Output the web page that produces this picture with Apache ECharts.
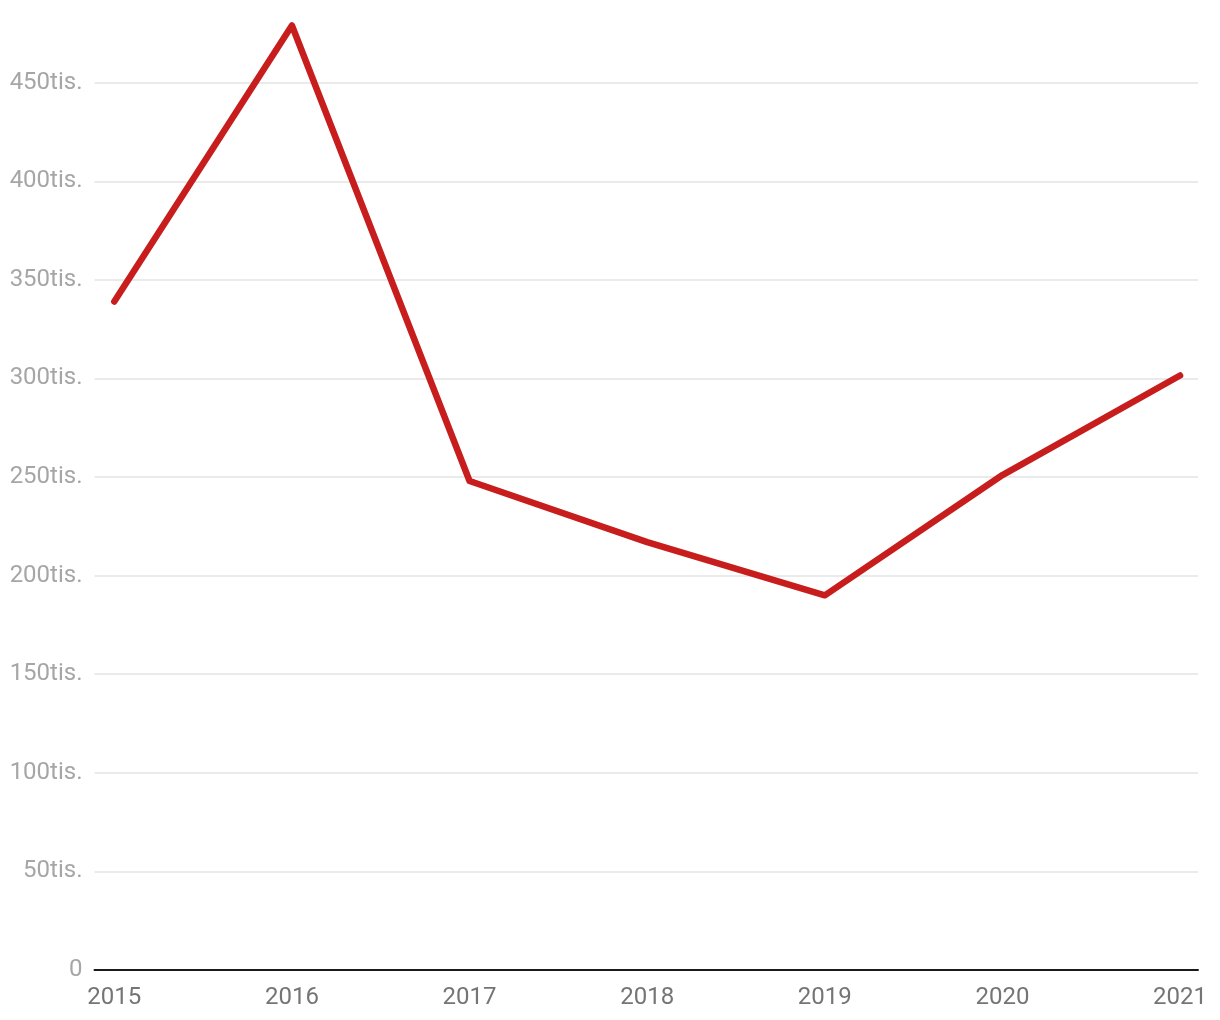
<!DOCTYPE html>
<html>
<head>
<meta charset="utf-8">
<script src="https://cdn.jsdelivr.net/npm/echarts@6/dist/echarts.min.js"></script>
<style>html,body{margin:0;padding:0;background:#fff}#chart{width:1220px;height:1020px}</style>
</head>
<body>
<div id="chart"></div>
<script>
var years = [2015, 2016, 2017, 2018, 2019, 2020, 2021];
var values = [339000, 479000, 248000, 217000, 190000, 251000, 301500];
var yTicks = [0, 50000, 100000, 150000, 200000, 250000, 300000, 350000, 400000, 450000];

var gridColors = yTicks.map(function () { return '#e3e3e3'; }).concat(['rgba(0,0,0,0)']);

var chart = echarts.init(document.getElementById('chart'));
chart.setOption({
  animation: false,
  grid: { left: 94.5, right: 22, top: 23.5, bottom: 50, containLabel: false },
  xAxis: {
    type: 'value',
    min: 2014.8885,
    max: 2021.101,
    axisLine: { show: true, onZero: false, lineStyle: { color: '#1a1a1a', width: 2 } },
    axisTick: { show: false },
    splitLine: { show: false },
    axisLabel: {
      customValues: years,
      color: '#757575',
      fontFamily: 'Roboto',
      fontSize: 24,
      margin: 16,
      formatter: function (v) { return String(v); }
    }
  },
  yAxis: {
    type: 'value',
    min: 0,
    max: 480000,
    interval: 50000,
    axisLine: { show: false },
    axisTick: { show: false },
    splitLine: { show: true, lineStyle: { color: gridColors, width: 1.5 } },
    axisLabel: {
      color: '#a6a6a6',
      fontFamily: 'Roboto',
      fontSize: 24,
      margin: 12,
      padding: [4, 0, 0, 0],
      formatter: function (v) {
        if (yTicks.indexOf(v) < 0) return '';
        return v === 0 ? '0' : (v / 1000) + 'tis.';
      }
    }
  },
  series: [{
    type: 'line',
    data: years.map(function (y, i) { return [y, values[i]]; }),
    symbol: 'none',
    clip: false,
    lineStyle: { color: '#c71e1d', width: 6.5, cap: 'round', join: 'round' }
  }]
});
</script>
</body>
</html>
